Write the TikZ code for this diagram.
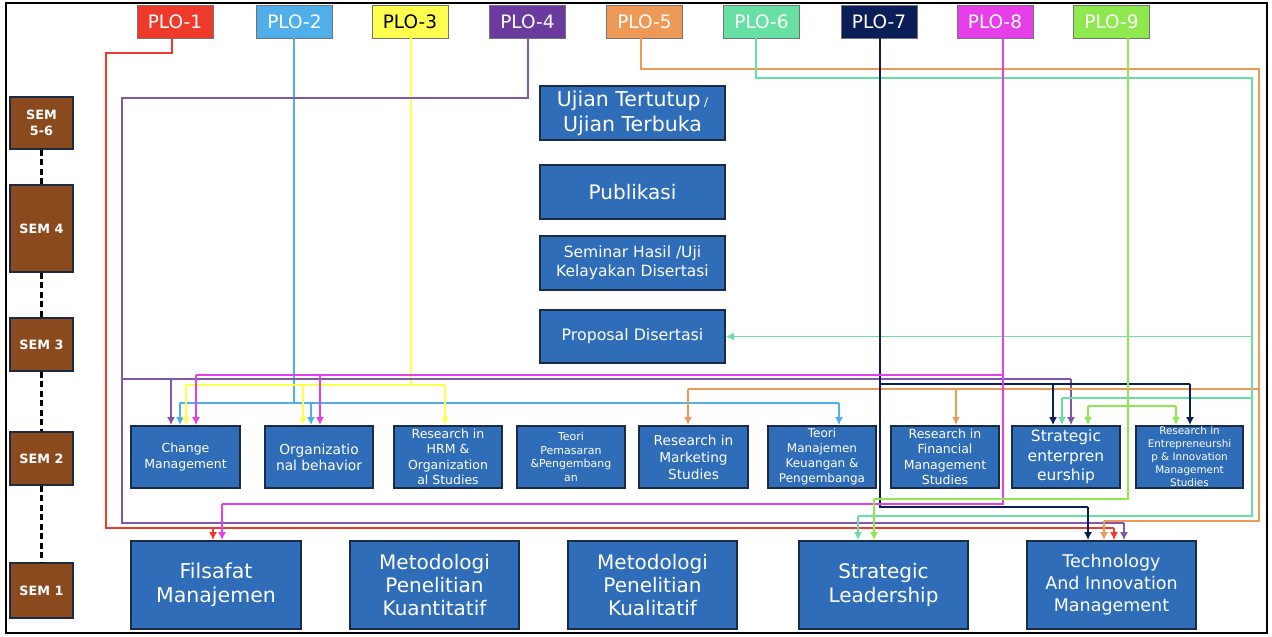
\documentclass[tikz,border=0pt]{standalone}
\usepackage{fontspec}
\setmainfont{DejaVu Sans}
\usetikzlibrary{arrows.meta}

\newcommand{\fsz}[2]{\fontsize{#1}{#2}\selectfont}

\definecolor{boxblue}{HTML}{2F6DB9}
\definecolor{boxline}{HTML}{1C2B44}
\definecolor{sembrown}{HTML}{8B4A1E}
\definecolor{cRed}{HTML}{EE3A2A}
\definecolor{cBlue}{HTML}{50AEEA}
\definecolor{cYellow}{HTML}{FFFF50}
\definecolor{cPurple}{HTML}{6B3A9E}
\definecolor{cOrange}{HTML}{EE9A56}
\definecolor{cTeal}{HTML}{68E0A4}
\definecolor{cNavy}{HTML}{0B1E58}
\definecolor{cMagenta}{HTML}{E63EE8}
\definecolor{cLime}{HTML}{8EE84E}

\begin{document}
\begin{tikzpicture}[x=1pt,y=-1pt,
    plo/.style={draw=black!55,line width=0.6pt,minimum width=76pt,minimum height=33pt,
      inner sep=0pt,text=white,font=\fsz{18.5}{22}},
    course/.style={draw=boxline,line width=1.8pt,fill=boxblue,text=white,align=center,inner sep=0pt},
    semcol/.style={draw=boxline,line width=1.8pt,fill=sembrown,text=white,align=center,
      inner sep=0pt,minimum width=63pt,font=\bfseries\fsz{12.8}{15.5}},
    link/.style={line width=1.5pt},
    semlink/.style={line width=2.8pt,dash pattern=on 6pt off 3.5pt},
    >={Latex[length=8pt,width=8pt]}]
  \useasboundingbox (0,0) rectangle (1272,637);
  \fill[white] (0,0) rectangle (1272,637);
  \draw[line width=2pt] (6,3) rectangle (1267,633);

  % PLO row
  \node[plo,fill=cRed] (plo1) at (175,21.5) {PLO-1};
  \node[plo,fill=cBlue] (plo2) at (294.5,21.5) {PLO-2};
  \node[plo,fill=cYellow,text=black] (plo3) at (410,21.5) {PLO-3};
  \node[plo,fill=cPurple] (plo4) at (527.5,21.5) {PLO-4};
  \node[plo,fill=cOrange] (plo5) at (644.5,21.5) {PLO-5};
  \node[plo,fill=cTeal] (plo6) at (761.5,21.5) {PLO-6};
  \node[plo,fill=cNavy] (plo7) at (879,21.5) {PLO-7};
  \node[plo,fill=cMagenta] (plo8) at (995,21.5) {PLO-8};
  \node[plo,fill=cLime] (plo9) at (1111.5,21.5) {PLO-9};

  % semesters
  \node[semcol,minimum height=52pt] (sem56) at (41.5,123) {SEM\\5-6};
  \node[semcol,minimum height=87pt] (sem4) at (41.5,228.5) {SEM 4};
  \node[semcol,minimum height=53pt] (sem3) at (41.5,344.5) {SEM 3};
  \node[semcol,minimum height=53pt] (sem2) at (41.5,458.5) {SEM 2};
  \node[semcol,minimum height=55pt] (sem1) at (41.5,590.5) {SEM 1};
  \draw[semlink] (sem56) -- (sem4) (sem4) -- (sem3) (sem3) -- (sem2) (sem2) -- (sem1);

  % sem 3 - 6
  \node[course,minimum width=185pt,minimum height=54pt,font=\fsz{20.5}{25}] (ujian) at (632.5,113)
    {Ujian Tertutup\,{\fsz{12}{12}/}\\Ujian Terbuka};
  \node[course,minimum width=185pt,minimum height=54pt,font=\fsz{20}{24}] (publikasi) at (632.5,192) {Publikasi};
  \node[course,minimum width=185pt,minimum height=54pt,font=\fsz{15.5}{19}] (seminar) at (632.5,263)
    {Seminar Hasil /Uji\\Kelayakan Disertasi};
  \node[course,minimum width=185pt,minimum height=53pt,font=\fsz{15.8}{19}] (proposal) at (632.5,336.5) {Proposal Disertasi};

  % sem 2
  \node[course,minimum width=109pt,minimum height=62pt,font=\fsz{12.5}{15.5}] (change) at (185.5,457)
    {Change\\Management};
  \node[course,minimum width=108pt,minimum height=62pt,font=\fsz{13.8}{16}] (orgbeh) at (319,457)
    {Organizatio\\nal behavior};
  \node[course,minimum width=108pt,minimum height=62pt,font=\fsz{12.5}{15.5}] (hrm) at (448,457)
    {Research in\\HRM \&\\Organization\\al Studies};
  \node[course,minimum width=108pt,minimum height=62pt,font=\fsz{11}{13.5}] (pemasaran) at (571,457)
    {Teori\\Pemasaran\\\&Pengembang\\an};
  \node[course,minimum width=109pt,minimum height=62pt,font=\fsz{13.7}{17}] (marketing) at (693.5,457)
    {Research in\\Marketing\\Studies};
  \node[course,minimum width=108pt,minimum height=62pt,font=\fsz{12}{15}] (keuangan) at (822,457)
    {Teori\\Manajemen\\Keuangan \&\\Pengembanga};
  \node[course,minimum width=108pt,minimum height=62pt,font=\fsz{12.5}{15.5}] (financial) at (945,457)
    {Research in\\Financial\\Management\\Studies};
  \node[course,minimum width=108pt,minimum height=62pt,font=\fsz{15.5}{19.5}] (stratent) at (1066,457)
    {Strategic\\enterpren\\eurship};
  \node[course,minimum width=107pt,minimum height=62pt,font=\fsz{10.4}{13}] (resent) at (1189.5,457)
    {Research in\\Entrepreneurshi\\p \& Innovation\\Management\\Studies};

  % sem 1
  \node[course,minimum width=170pt,minimum height=88pt,font=\fsz{20.5}{23.6}] (filsafat) at (216,585)
    {Filsafat\\Manajemen};
  \node[course,minimum width=169pt,minimum height=88pt,font=\fsz{20}{23}] (kuanti) at (434.5,585)
    {Metodologi\\Penelitian\\Kuantitatif};
  \node[course,minimum width=169pt,minimum height=88pt,font=\fsz{20}{23}] (kuali) at (652.5,585)
    {Metodologi\\Penelitian\\Kualitatif};
  \node[course,minimum width=169pt,minimum height=88pt,font=\fsz{20}{23.6}] (stratlead) at (883.5,585)
    {Strategic\\Leadership};
  \node[course,minimum width=169pt,minimum height=88pt,font=\fsz{17.5}{22}] (techinno) at (1111.5,585)
    {Technology\\And Innovation\\Management};

  % PLO-1
  \draw[link,cRed] (plo1.south -| 172,0) |- (106,53) |- (1114,528);
  \foreach \x/\y/\n in {213/528/filsafat,1114/528/techinno}
    \draw[link,cRed,->] (\x,\y) -- (\x,0 |- \n.north);
  % PLO-2
  \draw[link,cBlue] (plo2.south -| 294,0) -- (294,403) (180,403) -- (839,403);
  \foreach \x/\y/\n in {180/403/change,311/403/orgbeh,839/403/keuangan}
    \draw[link,cBlue,->] (\x,\y) -- (\x,0 |- \n.north);
  % PLO-3
  \draw[link,cYellow] (plo3.south -| 411,0) -- (411,385) (186,385) -- (445,385);
  \foreach \x/\y/\n in {186/385/change,303/385/orgbeh,445/385/hrm}
    \draw[link,cYellow,->] (\x,\y) -- (\x,0 |- \n.north);
  % PLO-4
  \draw[link,cPurple!85!white] (plo4.south -| 528,0) |- (122,98) |- (1124,523) (122,379) -- (1071,379);
  \foreach \x/\y/\n in {171/379/change,1071/379/stratent,1124/523/techinno}
    \draw[link,cPurple!85!white,->] (\x,\y) -- (\x,0 |- \n.north);
  % PLO-5
  \draw[link,cOrange] (plo5.south -| 641,0) |- (1259,69) |- (1104,521) (1259,389) -- (688,389);
  \foreach \x/\y/\n in {688/389/marketing,956/389/financial,1104/521/techinno}
    \draw[link,cOrange,->] (\x,\y) -- (\x,0 |- \n.north);
  % PLO-6
  \draw[link,cTeal] (plo6.south -| 756,0) |- (1252,78) |- (858,516) (1252,398) -- (1062,398);
  \draw[link,cTeal,->] (1252,0 |- proposal.east) -- (proposal.east);
  \foreach \x/\y/\n in {1062/398/stratent,858/516/stratlead}
    \draw[link,cTeal,->] (\x,\y) -- (\x,0 |- \n.north);
  % PLO-7
  \draw[link,cNavy] (plo7.south -| 880,0) |- (1088,507) (880,384) -- (1190,384);
  \foreach \x/\y/\n in {1053/384/stratent,1190/384/resent,1088/507/techinno}
    \draw[link,cNavy,->] (\x,\y) -- (\x,0 |- \n.north);
  % PLO-8
  \draw[link,cMagenta] (plo8.south -| 1003,0) |- (222,504) (1003,375) -- (196,375);
  \foreach \x/\y/\n in {196/375/change,320/375/orgbeh,222/504/filsafat}
    \draw[link,cMagenta,->] (\x,\y) -- (\x,0 |- \n.north);
  % PLO-9
  \draw[link,cLime] (plo9.south -| 1128,0) |- (874,499) (1088,406) -- (1176,406);
  \foreach \x/\y/\n in {1088/406/stratent,1176/406/resent,874/499/stratlead}
    \draw[link,cLime,->] (\x,\y) -- (\x,0 |- \n.north);
\end{tikzpicture}
\end{document}
